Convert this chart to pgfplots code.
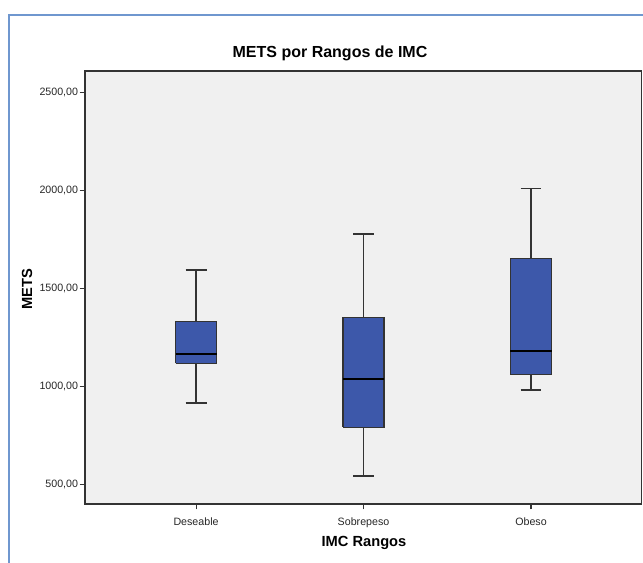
\documentclass[border=0pt]{standalone}
\usepackage{pgfplots}
\pgfplotsset{compat=1.18}
\usepackage{fontspec}
\setmainfont{Liberation Sans}
\definecolor{boxblue}{RGB}{61,88,170}
\definecolor{bgc}{RGB}{240,240,240}
\definecolor{framec}{RGB}{111,151,207}
\definecolor{linec}{RGB}{51,51,51}
\begin{document}
\begin{tikzpicture}
\useasboundingbox (0pt,0pt) rectangle (482.25pt,422.25pt);
\begin{scope}
\clip (0pt,0pt) rectangle (482.25pt,422.25pt);
\draw[framec, line width=1.2pt] (6.75pt,411pt) rectangle (540pt,-45pt);
\end{scope}
\begin{axis}[
  at={(63.75pt,44.25pt)}, anchor=south west,
  scale only axis, width=417.4pt, height=324.75pt,
  xmin=-0.663, xmax=2.66,
  ymin=398, ymax=2612,
  axis background/.style={fill=bgc},
  axis line style={linec, line width=0.9pt},
  xtick={0,1,2},
  xticklabels={Deseable,Sobrepeso,Obeso},
  ytick={500,1000,1500,2000,2500},
  yticklabels={{500,00},{1000,00},{1500,00},{2000,00},{2500,00}},
  xtick pos=bottom, ytick pos=left,
  tick align=outside,
  major tick length=4pt,
  tick style={linec, line width=0.8pt},
  tick label style={font=\fontsize{8}{9}\selectfont, text=black!85},
  xticklabel style={inner sep=1pt, yshift=-5pt},
  yticklabel style={inner sep=1pt},
  whisk/.style={linec, line width=1.2pt, mark=none},
  boxs/.style={fill=boxblue, draw=linec, line width=0.9pt, line join=miter, mark=none},
  med/.style={black, line width=1.6pt, mark=none},
]
% Deseable: 913, 1118, 1164, 1332, 1593
\addplot[whisk] coordinates {(0,1332) (0,1593)};
\addplot[whisk] coordinates {(-0.0625,1593) (0.0625,1593)};
\addplot[whisk] coordinates {(0,1118) (0,913)};
\addplot[whisk] coordinates {(-0.0625,913) (0.0625,913)};
\addplot[boxs] coordinates {(-0.1225,1118) (0.1225,1118) (0.1225,1332) (-0.1225,1332) (-0.1225,1118)};
\addplot[med] coordinates {(-0.1225,1164) (0.1225,1164)};
% Sobrepeso: 540, 790, 1036, 1353, 1777
\addplot[whisk] coordinates {(1,1353) (1,1777)};
\addplot[whisk] coordinates {(0.9375,1777) (1.0625,1777)};
\addplot[whisk] coordinates {(1,790) (1,540)};
\addplot[whisk] coordinates {(0.9375,540) (1.0625,540)};
\addplot[boxs] coordinates {(0.8775,790) (1.1225,790) (1.1225,1353) (0.8775,1353) (0.8775,790)};
\addplot[med] coordinates {(0.8775,1036) (1.1225,1036)};
% Obeso: 980, 1061, 1179, 1654, 2012
\addplot[whisk] coordinates {(2,1654) (2,2012)};
\addplot[whisk] coordinates {(1.9375,2012) (2.0625,2012)};
\addplot[whisk] coordinates {(2,1061) (2,980)};
\addplot[whisk] coordinates {(1.9375,980) (2.0625,980)};
\addplot[boxs] coordinates {(1.8775,1061) (2.1225,1061) (2.1225,1654) (1.8775,1654) (1.8775,1061)};
\addplot[med] coordinates {(1.8775,1179) (2.1225,1179)};
\end{axis}
\node[font=\fontsize{12}{14}\selectfont\bfseries] at (247.5pt,382.5pt) {METS por Rangos de IMC};
\node[font=\fontsize{11}{13}\selectfont\bfseries] at (273pt,15pt) {IMC Rangos};
\node[font=\fontsize{11}{13}\selectfont\bfseries, rotate=90] at (20.25pt,205.5pt) {METS};
\end{tikzpicture}
\end{document}
